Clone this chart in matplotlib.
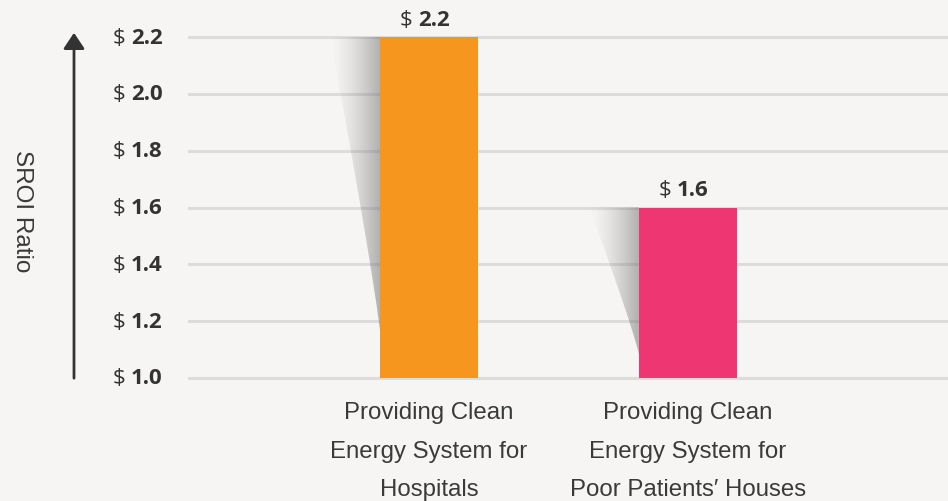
import matplotlib
matplotlib.use("Agg")
import matplotlib.pyplot as plt
import numpy as np
from matplotlib.path import Path
from matplotlib.patches import PathPatch, FancyArrowPatch

categories = ["Providing Clean\nEnergy System for\nHospitals",
              "Providing Clean\nEnergy System for\nPoor Patients\u2032 Houses"]
values = [2.2, 1.6]
colors = ["#f7961f", "#ee3673"]
ytick_vals = [1.0, 1.2, 1.4, 1.6, 1.8, 2.0, 2.2]
ytick_labels = ["1.0", "1.2", "1.4", "1.6", "1.8", "2.0", "2.2"]
ylabel = "SROI Ratio"

W, H = 948, 502
fig = plt.figure(figsize=(W/100, H/100), dpi=100)
bg = "#f6f5f3"
fig.patch.set_facecolor(bg)

ax = fig.add_axes([189/W, 1-379/H, (W-189)/W, (379-38)/H])
ax.set_facecolor(bg)
for s in ax.spines.values():
    s.set_visible(False)
ax.set_xticks([])
ax.set_yticks([])

for v in ytick_vals:
    ax.axhline(v, color="#dcdcdc", lw=2.2, zorder=1, clip_on=False)

x = np.arange(len(values))
bw = 98/259

# soft shadows on left side of bars
sw = 50/259
grad = np.zeros((2, 256, 4))
t = np.linspace(0, 1, 256)
grad[..., 0:3] = 0.42
grad[..., 3] = 0.5 * t**1.5
for xi, v in zip(x, values):
    left = xi - bw/2
    bottom = 1.0 + 0.14*(v - 1.0)
    ys = np.linspace(v, bottom, 30)
    fr = (ys - bottom)/(v - bottom)
    xs = left - sw*(0.5*fr + 0.5*fr**1.2)
    verts = [(left, v)] + list(zip(xs, ys)) + [(left, bottom), (left, v)]
    path = Path(verts)
    patch = PathPatch(path, facecolor="none", edgecolor="none")
    ax.add_patch(patch)
    im = ax.imshow(grad, extent=[left - sw, left, bottom, v], aspect="auto",
                   zorder=2, interpolation="bilinear")
    im.set_clip_path(patch)
ax.set_xlim(-0.9266, 2.004)
ax.set_ylim(1.0, 2.2)

ax.bar(x, [v - 1.0 for v in values], bottom=1.0, width=bw, color=colors, zorder=3)

font = "Open Sans"
tc = "#333333"
fs = 16
for v, lab in zip(ytick_vals, ytick_labels):
    ax.annotate(lab, xy=(0, v), xycoords=("axes fraction", "data"),
                xytext=(-58, 0), textcoords="offset pixels",
                ha="left", va="center", fontsize=fs, fontweight="bold",
                family=font, color=tc, annotation_clip=False)
    ax.annotate("$", xy=(0, v), xycoords=("axes fraction", "data"),
                xytext=(-64, 0), textcoords="offset pixels",
                ha="right", va="center", fontsize=fs,
                family=font, color=tc, annotation_clip=False)

for xi, v in zip(x, values):
    lab = f"{v:.1f}"
    ax.annotate(lab, xy=(xi, v), xycoords="data",
                xytext=(-11, 18), textcoords="offset pixels",
                ha="left", va="center", fontsize=fs, fontweight="bold",
                family=font, color=tc, annotation_clip=False)
    ax.annotate("$", xy=(xi, v), xycoords="data",
                xytext=(-17, 18), textcoords="offset pixels",
                ha="right", va="center", fontsize=fs,
                family=font, color=tc, annotation_clip=False)

for xi, cat in zip(x, categories):
    ax.annotate(cat, xy=(xi, 1.0), xycoords="data",
                xytext=(0, -23), textcoords="offset pixels",
                ha="center", va="top", fontsize=17.3, family="Liberation Sans",
                color="#3a3a3a", linespacing=1.98, annotation_clip=False)

# arrow axis
fig.add_artist(FancyArrowPatch(
    (74/W, 1-382/H), (74/W, 1-31/H), transform=fig.transFigure,
    arrowstyle="-|>,head_length=6,head_width=4", mutation_scale=1.6,
    color="#333333", lw=2))

fig.text(22/W, 1-211/H, ylabel, rotation=-90, ha="center", va="center",
         fontsize=17.5, family="Liberation Sans", color="#3a3a3a")

fig.savefig("out.png", dpi=100, facecolor=bg)
